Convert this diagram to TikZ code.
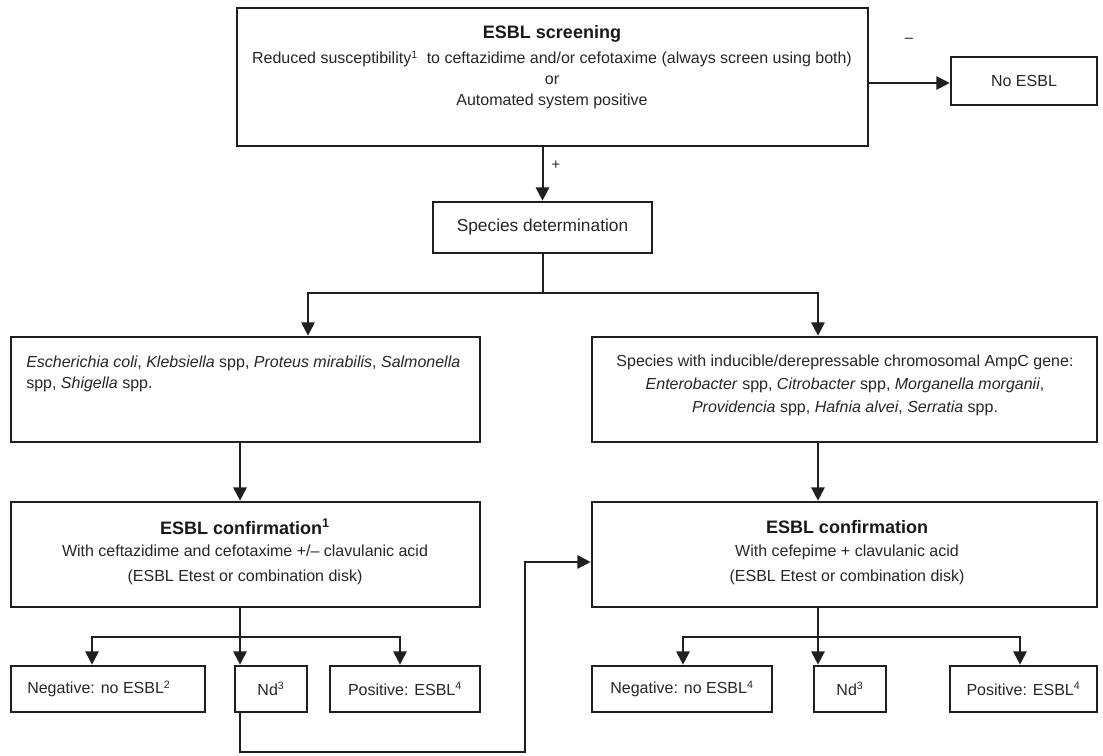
\documentclass[tikz,border=0pt]{standalone}
\usepackage{fontspec}
\setmainfont{Liberation Sans}
\usetikzlibrary{arrows.meta,fit}
\begin{document}
\begin{tikzpicture}[x=0.75pt,y=-0.75pt,
  box/.style={draw=black!88, line width=2pt, inner sep=0pt},
  conn/.style={draw=black!88, line width=1.5pt},
  arr/.style={conn, -{Triangle[length=10pt,width=10pt]}},
  txt/.style={font=\fontsize{12}{15.75}\selectfont, text=black!85, inner sep=0pt, align=center},
  ttl/.style={font=\fontsize{13.5}{16}\selectfont\bfseries, text=black!90, inner sep=0pt},
  lbl/.style={font=\fontsize{11}{13}\selectfont, text=black!85, inner sep=0pt},
]
\useasboundingbox (0,0) rectangle (1103,756);

% boxes
\node[box, fit={(237,8) (868,146)}] (top) {};
\node[box, fit={(951,57) (1097,105)}] (noesbl) {};
\node[box, fit={(433,202) (652,253)}] (species) {};
\node[box, fit={(11,337) (480,442)}] (lspec) {};
\node[box, fit={(592,337) (1097,442)}] (rspec) {};
\node[box, fit={(11,502) (480,607)}] (lconf) {};
\node[box, fit={(592,502) (1097,607)}] (rconf) {};
\node[box, fit={(11,666) (205,712)}] (lneg) {};
\node[box, fit={(235,666) (307,712)}] (lnd) {};
\node[box, fit={(330,666) (480,712)}] (lpos) {};
\node[box, fit={(592,666) (772,712)}] (rneg) {};
\node[box, fit={(814,666) (886,712)}] (rnd) {};
\node[box, fit={(950,666) (1097,712)}] (rpos) {};

% texts
\node[ttl] (toptitle) at (552,34) {ESBL screening};
\node[txt] (topbody) at (552,80) {Reduced susceptibility\textsuperscript{1}\ \ to ceftazidime and/or cefotaxime (always screen using both)\\ or\\ Automated system positive};
\node[txt] (noesbltxt) at (noesbl.center) {No ESBL};
\node[lbl] (minus) at (909,40) {–};
\node[lbl] (plus) at (556,165) {+};
\node[txt, font=\fontsize{13}{15}\selectfont] (spectxt) at (species.center) {Species determination};
\node[txt, align=left, anchor=west] (lspectxt) at (26,374) {\textit{Escherichia coli}, \textit{Klebsiella} spp, \textit{Proteus mirabilis}, \textit{Salmonella}\\ spp, \textit{Shigella} spp.};
\node[txt, font=\fontsize{12}{17.25}\selectfont] (rspectxt) at (845,385) {Species with inducible/derepressable chromosomal AmpC gene:\\ \textit{Enterobacter} spp, \textit{Citrobacter} spp, \textit{Morganella morganii},\\ \textit{Providencia} spp, \textit{Hafnia alvei}, \textit{Serratia} spp.};
\node[ttl] (lconftitle) at (245,527) {ESBL confirmation\textsuperscript{1}};
\node[txt, font=\fontsize{12}{18.75}\selectfont] (lconfbody) at (245,565) {With ceftazidime and cefotaxime +/– clavulanic acid\\ (ESBL Etest or combination disk)};
\node[ttl] (rconftitle) at (847,527) {ESBL confirmation};
\node[txt, font=\fontsize{12}{18.75}\selectfont] (rconfbody) at (847,565) {With cefepime + clavulanic acid\\ (ESBL Etest or combination disk)};
\node[txt, anchor=west] (lnegtxt) at (27,689) {Negative: no ESBL\textsuperscript{2}};
\node[txt] (lndtxt) at (lnd.center) {Nd\textsuperscript{3}};
\node[txt] (lpostxt) at (lpos.center) {Positive: ESBL\textsuperscript{4}};
\node[txt] (rnegtxt) at (rneg.center) {Negative: no ESBL\textsuperscript{4}};
\node[txt] (rndtxt) at (rnd.center) {Nd\textsuperscript{3}};
\node[txt] (rpostxt) at (rpos.center) {Positive: ESBL\textsuperscript{4}};

% helper coordinates
\coordinate (bL) at (308,293);
\coordinate (bR) at (818,293);
\coordinate (lx) at (240,0);
\coordinate (rx) at (818,0);
\coordinate (lb) at (240,637);
\coordinate (rb) at (818,637);
\coordinate (lnegx) at (92,0);
\coordinate (lposx) at (400,0);
\coordinate (rnegx) at (683,0);
\coordinate (rposx) at (1020,0);
\coordinate (rt2) at (525,752);
\coordinate (rt3) at (525,562);

% connectors
\draw[arr] (top.south -| species.north) -- (species.north);
\draw[arr] (top.east |- 0,83) -- (noesbl.west |- 0,83);
\draw[arr] (species.south) |- (bL) -- (bL |- lspec.north);
\draw[arr] (species.south) |- (bR) -- (bR |- rspec.north);
\draw[arr] (lspec.south -| lx) -- (lconf.north -| lx);
\draw[arr] (rspec.south -| rx) -- (rconf.north -| rx);
\draw[arr] (lconf.south -| lx) -- (lnd.north -| lx);
\draw[arr] (lb) -| (lneg.north -| lnegx);
\draw[arr] (lb) -| (lpos.north -| lposx);
\draw[arr] (rconf.south -| rx) -- (rnd.north -| rx);
\draw[arr] (rb) -| (rneg.north -| rnegx);
\draw[arr] (rb) -| (rpos.north -| rposx);
\draw[arr] (lnd.south -| lx) |- (rt2) |- (rconf.west |- rt3);
\end{tikzpicture}
\end{document}
